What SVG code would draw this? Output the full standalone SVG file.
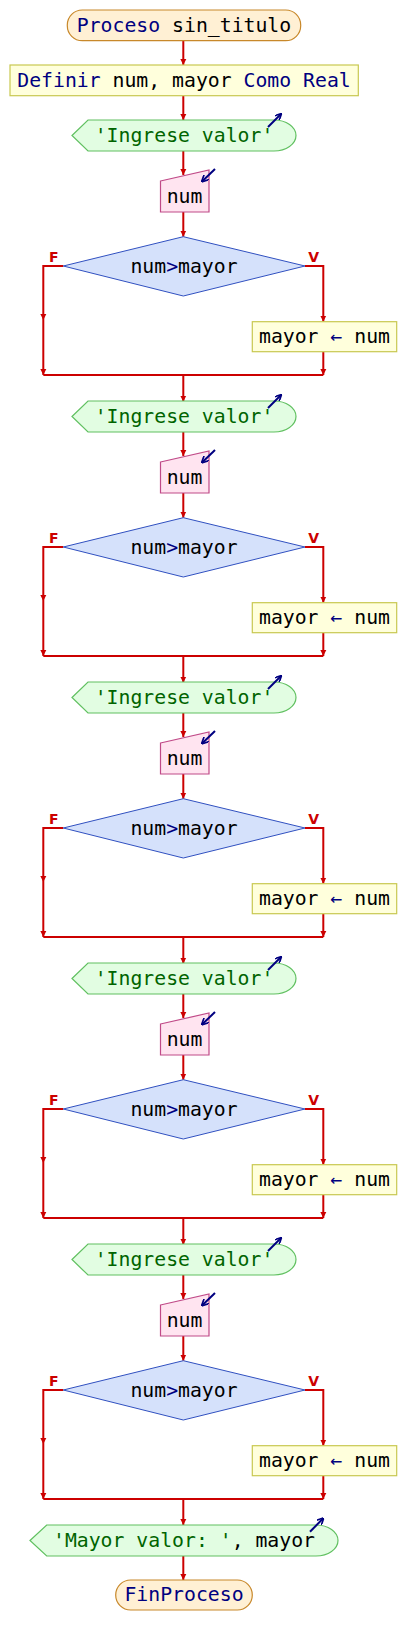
<svg xmlns="http://www.w3.org/2000/svg" xmlns:xlink="http://www.w3.org/1999/xlink" width="406" height="1645" viewBox="0 0 406 1645">
<defs>
<style>
.t{font-family:"DejaVu Sans Mono","Liberation Mono",monospace;font-size:19.8px;text-anchor:middle}
.nv{fill:#000080}
.bk{fill:#000000}
.gr{fill:#006400}
.lb{font-family:"DejaVu Sans","Liberation Sans",sans-serif;font-size:14px;font-weight:bold;fill:#cc0000;text-anchor:middle}
.c{fill:none;stroke:#cc0000;stroke-width:2;marker-end:url(#ah)}
.cn{fill:none;stroke:#cc0000;stroke-width:2}
.term{fill:#fff0d4;stroke:#c8882a;stroke-width:1.2}
.proc{fill:#ffffdc;stroke:#c8c850;stroke-width:1.2}
.out{fill:#e2fde2;stroke:#60c060;stroke-width:1.2}
.inp{fill:#ffe4f0;stroke:#c04a88;stroke-width:1.2}
.dec{fill:#d5e1fb;stroke:#3050c0;stroke-width:1}
.ic{fill:none;stroke:#000080;stroke-width:2;marker-end:url(#ih)}
</style>
<marker id="ah" viewBox="0 0 10 10" refX="10" refY="5" markerWidth="6" markerHeight="10" markerUnits="userSpaceOnUse" orient="auto"><path d="M0,0 L10,5 L0,10 Z" fill="#cc0000"/></marker>
<marker id="ih" viewBox="0 0 10 10" refX="9" refY="5" markerWidth="7" markerHeight="7" markerUnits="userSpaceOnUse" orient="auto"><path d="M0,0 L10,5 L0,10" fill="none" stroke="#000080" stroke-width="2.4"/></marker>
</defs>
<rect width="406" height="1645" fill="#ffffff"/>

<g id="connectors">
<path class="c" d="M183.3,41 V65"/>
<path class="c" d="M183.3,96 V120"/>
<g id="conn-b1">
<path class="c" d="M183.3,151 V175"/>
<path class="c" d="M183.3,212 V236.7"/>
<path class="c" d="M63.3,266 H43.3 V320"/>
<path class="c" d="M43.3,320 V375"/>
<path class="c" d="M305,266 H323.3 V321.7"/>
<path class="c" d="M323.3,351.7 V375"/>
<path class="cn" d="M43.3,375 H323.3"/>
<path class="c" d="M183.3,375 V401.7"/>
</g>
<use xlink:href="#conn-b1" href="#conn-b1" transform="translate(0,281)"/>
<use xlink:href="#conn-b1" href="#conn-b1" transform="translate(0,562)"/>
<use xlink:href="#conn-b1" href="#conn-b1" transform="translate(0,843)"/>
<g transform="translate(0,1124)">
<path class="c" d="M183.3,151 V175"/>
<path class="c" d="M183.3,212 V236.7"/>
<path class="c" d="M63.3,266 H43.3 V320"/>
<path class="c" d="M43.3,320 V375"/>
<path class="c" d="M305,266 H323.3 V321.7"/>
<path class="c" d="M323.3,351.7 V375"/>
<path class="cn" d="M43.3,375 H323.3"/>
<path class="c" d="M183.3,375 V401"/>
</g>
<path class="c" d="M183.3,1556 V1580"/>
</g>

<g id="start">
<rect class="term" x="67.3" y="10" width="233.4" height="30.7" rx="15" ry="15"/>
<text class="t" x="184" y="32"><tspan class="nv">Proceso</tspan><tspan class="bk"> sin_titulo</tspan></text>
</g>

<g id="define">
<rect class="proc" x="10" y="65" width="348.3" height="30.7"/>
<text class="t" x="184" y="86.7"><tspan class="nv">Definir</tspan><tspan class="bk"> num, mayor </tspan><tspan class="nv">Como Real</tspan></text>
</g>

<g id="block1">
<g id="out1">
<path class="out" d="M72,135.5 L88,120 H274 A22,15.5 0 0 1 274,151 H88 Z"/>
<text class="t gr" x="184" y="141.7">'Ingrese valor'</text>
<path class="ic" d="M268,127 L281,114"/>
</g>
<g id="in1">
<path class="inp" d="M160.5,181 L209,170 V212 H160.5 Z"/>
<text class="t bk" x="184.5" y="202.7">num</text>
<path class="ic" d="M215,169 L202,181.5"/>
</g>
<g id="dec1">
<path class="dec" d="M183.3,236.7 L305,266 L183.3,296 L63.3,266 Z"/>
<text class="t bk" x="184" y="273"><tspan>num</tspan><tspan class="nv">&gt;</tspan><tspan>mayor</tspan></text>
<text class="lb" x="53.7" y="261.7">F</text>
<text class="lb" x="313.7" y="262">V</text>
</g>
<g id="asg1">
<rect class="proc" x="252.3" y="321.7" width="144.4" height="30"/>
<text class="t bk" x="324.5" y="342.7"><tspan>mayor </tspan><tspan class="nv">←</tspan><tspan> num</tspan></text>
</g>
</g>

<g id="block2" transform="translate(0,281)">
<g id="out2">
<path class="out" d="M72,135.5 L88,120 H274 A22,15.5 0 0 1 274,151 H88 Z"/>
<text class="t gr" x="184" y="141.7">'Ingrese valor'</text>
<path class="ic" d="M268,127 L281,114"/>
</g>
<g id="in2">
<path class="inp" d="M160.5,181 L209,170 V212 H160.5 Z"/>
<text class="t bk" x="184.5" y="202.7">num</text>
<path class="ic" d="M215,169 L202,181.5"/>
</g>
<g id="dec2">
<path class="dec" d="M183.3,236.7 L305,266 L183.3,296 L63.3,266 Z"/>
<text class="t bk" x="184" y="273"><tspan>num</tspan><tspan class="nv">&gt;</tspan><tspan>mayor</tspan></text>
<text class="lb" x="53.7" y="261.7">F</text>
<text class="lb" x="313.7" y="262">V</text>
</g>
<g id="asg2">
<rect class="proc" x="252.3" y="321.7" width="144.4" height="30"/>
<text class="t bk" x="324.5" y="342.7"><tspan>mayor </tspan><tspan class="nv">←</tspan><tspan> num</tspan></text>
</g>
</g>

<g id="block3" transform="translate(0,562)">
<g id="out3">
<path class="out" d="M72,135.5 L88,120 H274 A22,15.5 0 0 1 274,151 H88 Z"/>
<text class="t gr" x="184" y="141.7">'Ingrese valor'</text>
<path class="ic" d="M268,127 L281,114"/>
</g>
<g id="in3">
<path class="inp" d="M160.5,181 L209,170 V212 H160.5 Z"/>
<text class="t bk" x="184.5" y="202.7">num</text>
<path class="ic" d="M215,169 L202,181.5"/>
</g>
<g id="dec3">
<path class="dec" d="M183.3,236.7 L305,266 L183.3,296 L63.3,266 Z"/>
<text class="t bk" x="184" y="273"><tspan>num</tspan><tspan class="nv">&gt;</tspan><tspan>mayor</tspan></text>
<text class="lb" x="53.7" y="261.7">F</text>
<text class="lb" x="313.7" y="262">V</text>
</g>
<g id="asg3">
<rect class="proc" x="252.3" y="321.7" width="144.4" height="30"/>
<text class="t bk" x="324.5" y="342.7"><tspan>mayor </tspan><tspan class="nv">←</tspan><tspan> num</tspan></text>
</g>
</g>

<g id="block4" transform="translate(0,843)">
<g id="out4">
<path class="out" d="M72,135.5 L88,120 H274 A22,15.5 0 0 1 274,151 H88 Z"/>
<text class="t gr" x="184" y="141.7">'Ingrese valor'</text>
<path class="ic" d="M268,127 L281,114"/>
</g>
<g id="in4">
<path class="inp" d="M160.5,181 L209,170 V212 H160.5 Z"/>
<text class="t bk" x="184.5" y="202.7">num</text>
<path class="ic" d="M215,169 L202,181.5"/>
</g>
<g id="dec4">
<path class="dec" d="M183.3,236.7 L305,266 L183.3,296 L63.3,266 Z"/>
<text class="t bk" x="184" y="273"><tspan>num</tspan><tspan class="nv">&gt;</tspan><tspan>mayor</tspan></text>
<text class="lb" x="53.7" y="261.7">F</text>
<text class="lb" x="313.7" y="262">V</text>
</g>
<g id="asg4">
<rect class="proc" x="252.3" y="321.7" width="144.4" height="30"/>
<text class="t bk" x="324.5" y="342.7"><tspan>mayor </tspan><tspan class="nv">←</tspan><tspan> num</tspan></text>
</g>
</g>

<g id="block5" transform="translate(0,1124)">
<g id="out5">
<path class="out" d="M72,135.5 L88,120 H274 A22,15.5 0 0 1 274,151 H88 Z"/>
<text class="t gr" x="184" y="141.7">'Ingrese valor'</text>
<path class="ic" d="M268,127 L281,114"/>
</g>
<g id="in5">
<path class="inp" d="M160.5,181 L209,170 V212 H160.5 Z"/>
<text class="t bk" x="184.5" y="202.7">num</text>
<path class="ic" d="M215,169 L202,181.5"/>
</g>
<g id="dec5">
<path class="dec" d="M183.3,236.7 L305,266 L183.3,296 L63.3,266 Z"/>
<text class="t bk" x="184" y="273"><tspan>num</tspan><tspan class="nv">&gt;</tspan><tspan>mayor</tspan></text>
<text class="lb" x="53.7" y="261.7">F</text>
<text class="lb" x="313.7" y="262">V</text>
</g>
<g id="asg5">
<rect class="proc" x="252.3" y="321.7" width="144.4" height="30"/>
<text class="t bk" x="324.5" y="342.7"><tspan>mayor </tspan><tspan class="nv">←</tspan><tspan> num</tspan></text>
</g>
</g>

<g id="out-final">
<path class="out" d="M30,1540.5 L46.7,1525 H316 A22,15.5 0 0 1 316,1556 H46.7 Z"/>
<text class="t" x="184" y="1546.7"><tspan class="gr">'Mayor valor: '</tspan><tspan class="bk">, mayor</tspan></text>
<path class="ic" d="M310,1531.7 L323.3,1518.3"/>
</g>

<g id="end">
<rect class="term" x="115.7" y="1580" width="136.6" height="30" rx="15" ry="15"/>
<text class="t nv" x="184" y="1601">FinProceso</text>
</g>
</svg>
